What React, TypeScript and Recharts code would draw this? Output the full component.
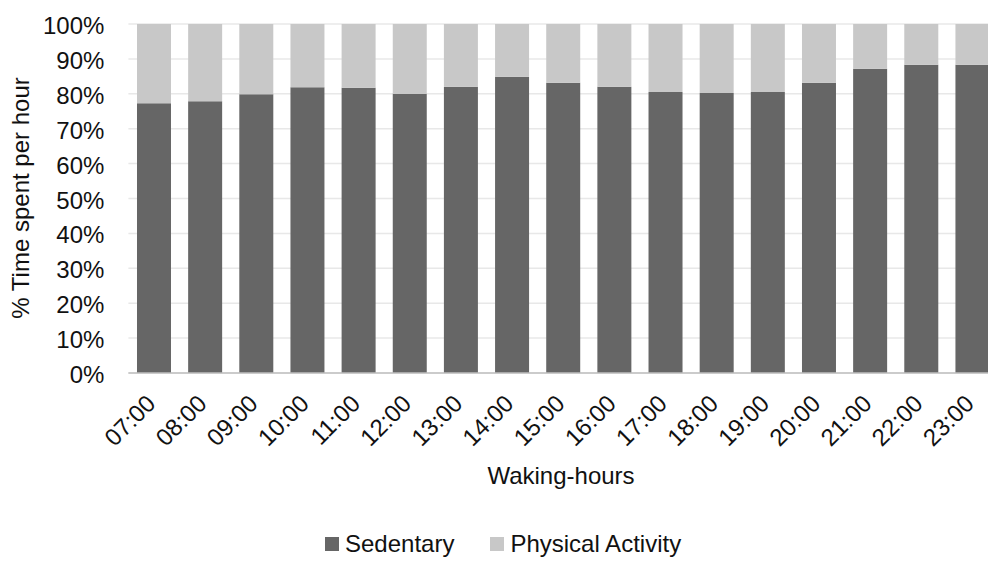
import React from "react";
import { BarChart, Bar, XAxis, YAxis, CartesianGrid, Legend } from "recharts";

const hours = ["07:00", "08:00", "09:00", "10:00", "11:00", "12:00", "13:00", "14:00", "15:00", "16:00", "17:00", "18:00", "19:00", "20:00", "21:00", "22:00", "23:00"];
const sedentary = [77.3, 77.9, 79.9, 81.9, 81.7, 80.0, 82.0, 84.9, 83.2, 82.0, 80.5, 80.2, 80.5, 83.2, 87.2, 88.3, 88.3];
const physical = [22.7, 22.1, 20.1, 18.1, 18.3, 20.0, 18.0, 15.1, 16.8, 18.0, 19.5, 19.8, 19.5, 16.8, 12.8, 11.7, 11.7];
const yTicks = [0, 10, 20, 30, 40, 50, 60, 70, 80, 90, 100];

const data = hours.map((h, i) => ({ hour: h, sedentary: sedentary[i], physical: physical[i] }));

const FONT = "'Liberation Sans', Arial, sans-serif";
const DARK = "#666666";
const LIGHT = "#c8c8c8";

const XTick = (props: any) => {
  const { x, y, payload } = props;
  return (
    <g transform={`translate(${x + 3},${y + 32})`}>
      <text x={0} y={0} textAnchor="end" transform="rotate(-45)" fontFamily={FONT} fontSize={24} fill="#111">
        {payload.value}
      </text>
    </g>
  );
};

const YTick = (props: any) => {
  const { x, y, payload } = props;
  return (
    <text x={x} y={y} dy={10} textAnchor="end" fontFamily={FONT} fontSize={24} fill="#111">
      {`${payload.value}%`}
    </text>
  );
};

const LegendContent = () => (
  <div style={{ height: 30, display: "flex", alignItems: "center", marginLeft: 325, fontFamily: FONT, fontSize: 24, color: "#111", lineHeight: "30px" }}>
    <span style={{ display: "inline-block", width: 14, height: 14, background: DARK, marginRight: 6 }} />
    <span>Sedentary</span>
    <span style={{ display: "inline-block", width: 14, height: 14, background: LIGHT, marginLeft: 36, marginRight: 6 }} />
    <span>Physical Activity</span>
  </div>
);

export default function App() {
  return (
    <div style={{ position: "absolute", left: 0, top: 0, width: 988, height: 563, overflow: "hidden", background: "#fff" }}>
      <BarChart
        width={998}
        height={563}
        data={data}
        margin={{ top: 24, right: 0, left: 0, bottom: 4 }}
        barCategoryGap="16.8%"
      >
        <CartesianGrid vertical={false} stroke="#e8e8e8" strokeWidth={1.5} />
        <XAxis
          dataKey="hour"
          interval={0}
          height={156}
          tickLine={false}
          tickSize={0}
          tickMargin={0}
          axisLine={{ stroke: "#bfbfbf", strokeWidth: 1.5 }}
          tick={<XTick />}
          label={{
            content: () => (
              <text x={561} y={484} textAnchor="middle" fontFamily={FONT} fontSize={24} fill="#111">
                Waking-hours
              </text>
            ),
          }}
        />
        <YAxis
          width={128.4}
          domain={[0, 100]}
          ticks={yTicks}
          interval={0}
          axisLine={false}
          tickLine={false}
          tickSize={0}
          tickMargin={24}
          tick={<YTick />}
          label={{
            content: () => (
              <text x={0} y={0} transform="translate(29,198) rotate(-90)" textAnchor="middle" fontFamily={FONT} fontSize={24} fill="#111">
                % Time spent per hour
              </text>
            ),
          }}
        />
        <Legend verticalAlign="bottom" align="left" height={30} wrapperStyle={{ height: 30, width: 988 }} content={<LegendContent />} />
        <Bar dataKey="sedentary" name="Sedentary" stackId="a" fill={DARK} isAnimationActive={false} />
        <Bar dataKey="physical" name="Physical Activity" stackId="a" fill={LIGHT} isAnimationActive={false} />
      </BarChart>
    </div>
  );
}
